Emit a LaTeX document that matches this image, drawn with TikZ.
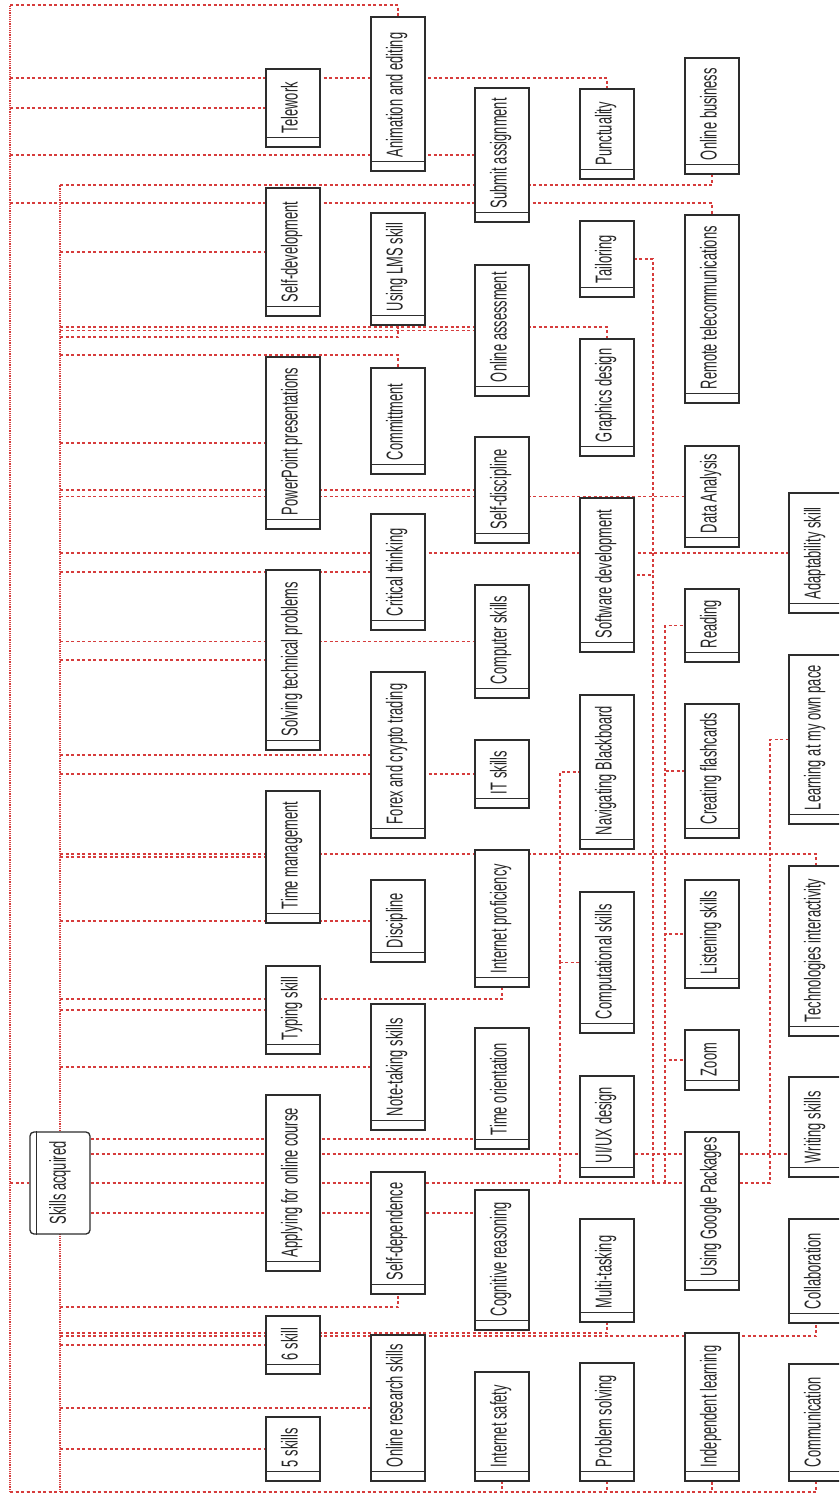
\documentclass[tikz,border=0pt]{standalone}
\usepackage{fontspec}
\usepackage{tikz}
\usetikzlibrary{calc, backgrounds}
\usepackage{xcolor}
\newfontfamily\cond[FakeStretch=0.56]{Liberation Sans}
\definecolor{linkred}{RGB}{214,60,60}
\definecolor{boxline}{RGB}{45,45,45}

\begin{document}
\begin{tikzpicture}[
  x=1pt, y=-1pt,
  skill/.style={
    rectangle, draw=boxline, line width=1.3pt, fill=white,
    rotate=90, minimum width=#1, minimum height=54,
    text width=#1-28, inner xsep=14pt, inner ysep=0pt,
    text height=17pt, text depth=8pt,
    font=\cond\fontsize{23}{25}\selectfont, text=black!85,
    execute at begin node={\hbox\bgroup\spaceskip=3.8pt\relax},
    execute at end node=\egroup
  },
  rootbox/.style={
    rectangle, draw=boxline, line width=1.3pt, fill=white,
    rounded corners=4pt, rotate=90, minimum width=102, minimum height=60,
    inner sep=0pt, font=\cond\fontsize{23}{25}\selectfont, text=black!85
  },
  strip/.style={draw=boxline, line width=1.3pt},
  link/.style={draw=linkred, line width=1.1pt, dash pattern=on 3pt off 2.5pt},
  trunk/.style={draw=linkred, line width=1.3pt, dash pattern=on 1.2pt off 1pt}
]
\useasboundingbox (0,0) rectangle (839,1494);
\clip (0,0) rectangle (839,1494);

\node[rootbox] (root) at (60,1183) {Skills acquired};

\node[skill=64]  (fiveskills) at (293,1449) {5 skills};
\node[skill=58]  (sixskill)   at (293,1345) {6 skill};
\node[skill=176] (applying)   at (293,1183) {Applying for online course};
\node[skill=88]  (typing)     at (293,1010) {Typing skill};
\node[skill=132] (timemgmt)   at (293,857)  {Time management};
\node[skill=180] (solving)    at (293,660)  {Solving technical problems};
\node[skill=172] (powerpoint) at (293,443)  {PowerPoint presentations};
\node[skill=128] (selfdev)    at (293,252)  {Self-development};
\node[skill=78]  (telework)   at (293,108)  {Telework};

\node[skill=146] (onlres)     at (398,1408) {Online research skills};
\node[skill=122] (selfdep)    at (398,1233) {Self-dependence};
\node[skill=126] (notetaking) at (398,1067) {Note-taking skills};
\node[skill=82]  (discipline) at (398,921)  {Discipline};
\node[skill=166] (forex)      at (398,755)  {Forex and crypto trading};
\node[skill=116] (critical)   at (398,572)  {Critical thinking};
\node[skill=106] (commit)     at (398,421)  {Committment};
\node[skill=112] (lms)        at (398,269)  {Using LMS skill};
\node[skill=154] (anim)       at (398,94)   {Animation and editing};

\node[skill=109] (intsafety)  at (502,1426.5) {Internet safety};
\node[skill=140] (cognitive)  at (502,1260)   {Cognitive reasoning};
\node[skill=121] (timeor)     at (502,1088.5) {Time orientation};
\node[skill=137] (intprof)    at (502,918.5)  {Internet proficiency};
\node[skill=68]  (itskills)   at (502,774)    {IT skills};
\node[skill=113] (computer)   at (502,641.5)  {Computer skills};
\node[skill=106] (selfdisc)   at (502,490)    {Self-discipline};
\node[skill=131] (onlassess)  at (502,330.5)  {Online assessment};
\node[skill=134] (submit)     at (502,155)    {Submit assignment};

\node[skill=118] (probsolv)   at (607,1422)   {Problem solving};
\node[skill=103] (multitask)  at (607,1270.5) {Multi-tasking};
\node[skill=101] (uiux)       at (607,1126.5) {UI/UX design};
\node[skill=141] (comput)     at (607,962.5)  {Computational skills};
\node[skill=154] (navbb)      at (607,772)    {Navigating Blackboard};
\node[skill=154] (softdev)    at (607,575)    {Software development};
\node[skill=117] (graphics)   at (607,397.5)  {Graphics design};
\node[skill=76]  (tailor)     at (607,259)    {Tailoring};
\node[skill=90]  (punct)      at (607,134)    {Punctuality};

\node[skill=148] (indep)      at (712,1407)   {Independent learning};
\node[skill=158] (gpack)      at (712,1211)   {Using Google Packages};
\node[skill=60]  (zoom)       at (712,1060)   {Zoom};
\node[skill=108] (listening)  at (712,934)    {Listening skills};
\node[skill=134] (creating)   at (712,771)    {Creating flashcards};
\node[skill=73]  (reading)    at (712,625.5)  {Reading};
\node[skill=101] (dataan)     at (712,496.5)  {Data Analysis};
\node[skill=188] (remote)     at (712,309)    {Remote telecommunications};
\node[skill=116] (onlbiz)     at (712,116)    {Online business};

\node[skill=117] (comm)       at (816,1422.5) {Communication};
\node[skill=104] (collab)     at (816,1271)   {Collaboration};
\node[skill=100] (writing)    at (816,1127)   {Writing skills};
\node[skill=170] (techint)    at (816,951)    {Technologies interactivity};
\node[skill=169] (learnpace)  at (816,739.5)  {Learning at my own pace};
\node[skill=120] (adapt)      at (816,553)    {Adaptability skill};

\foreach \n in {fiveskills, sixskill, applying, typing, timemgmt, solving, powerpoint, selfdev, telework,
  onlres, selfdep, notetaking, discipline, forex, critical, commit, lms, anim,
  intsafety, cognitive, timeor, intprof, itskills, computer, selfdisc, onlassess, submit,
  probsolv, multitask, uiux, comput, navbb, softdev, graphics, tailor, punct,
  indep, gpack, zoom, listening, creating, reading, dataan, remote, onlbiz,
  comm, collab, writing, techint, learnpace, adapt}
  \draw[strip] ($(\n.south west)!10pt!(\n.south east)$) -- ($(\n.north west)!10pt!(\n.north east)$);
\draw[strip] ($(root.north east)!7pt!(root.south east)$) -- ($(root.north west)!7pt!(root.south west)$);

\coordinate (ta)  at (10,5);
\coordinate (tab) at (10,1492);
\coordinate (tb)  at (60,185);
\coordinate (tbb) at (60,1492);
\coordinate (va)  at (560,1183);
\coordinate (vb)  at (653,1183);
\coordinate (vc)  at (665,1183);
\coordinate (vd)  at (770,1183);

\begin{scope}[on background layer]
\draw[trunk] (tab) -- (ta);
\draw[trunk] (tbb) -- (tb);
\draw[link] (ta) -| (anim.east);
\draw[link] (tb) -| (onlbiz.west);
\draw[link] (ta |- root.north) -- (root.north);
\draw[link] (tab) -| (intsafety.west);
\draw[link] (tab) -| (probsolv.west);
\draw[link] (tab) -| (indep.west);
\draw[link] (tab) -| (comm.west);

\draw[link] (ta |- 0,78) -| (punct.east);
\draw[link] (ta |- telework.north) -- (telework.north);
\draw[link] (ta |- submit.north) -- (submit.north);
\draw[link] (ta |- 0,203) -| (remote.east);

\draw[link] (tb |- selfdev.north) -- (selfdev.north);
\draw[link] (tb |- 0,327) -| (graphics.east);
\draw[link] (tb |- onlassess.north) -- (onlassess.north);
\draw[link] (tb |- 0,337) -| (lms.west);
\draw[link] (tb |- 0,355) -| (commit.east);
\draw[link] (tb |- powerpoint.north) -- (powerpoint.north);
\draw[link] (tb |- selfdisc.north) -- (selfdisc.north);
\draw[link] (tb |- dataan.north) -- (dataan.north);
\draw[link] (tb |- adapt.north) -- (adapt.north);
\draw[link] (tb |- critical.north) -- (critical.north);
\draw[link] (tb |- computer.north) -- (computer.north);
\draw[link] (tb |- solving.north) -- (solving.north);
\draw[link] (tb |- forex.north) -- (forex.north);
\draw[link] (tb |- itskills.north) -- (itskills.north);
\draw[link] (tb |- timemgmt.north) -- (timemgmt.north);
\draw[link] (tb |- 0,854) -| (techint.east);
\draw[link] (tb |- discipline.north) -- (discipline.north);
\draw[link] (tb |- 0,999) -| (intprof.west);
\draw[link] (tb |- typing.north) -- (typing.north);
\draw[link] (tb |- notetaking.north) -- (notetaking.north);
\draw[link] (tb |- 0,1307) -| (selfdep.west);
\draw[link] (tb |- 0,1333) -| (multitask.west);
\draw[link] (tb |- 0,1336) -| (collab.west);
\draw[link] (tb |- sixskill.north) -- (sixskill.north);
\draw[link] (tb |- onlres.north) -- (onlres.north);
\draw[link] (tb |- fiveskills.north) -- (fiveskills.north);

\draw[link] (root.south |- 0,1139) -- (timeor.north |- 0,1139);
\draw[link] (root.south |- 0,1154) -- (writing.north |- 0,1154);
\draw[link] (root.south |- 0,1213) -- (cognitive.north |- 0,1213);
\draw[link] (root.south) -- (applying.north |- root.south);
\draw[link] (root.south) -- (vd) |- (learnpace.north);
\draw[link] (va) |- (navbb.north);
\draw[link] (va) |- (comput.north);
\draw[link] (vb) |- (tailor.south);
\draw[link] (vb) |- (softdev.south);
\draw[link] (vc) |- (reading.north);
\draw[link] (vc) |- (creating.north);
\draw[link] (vc) |- (listening.north);
\draw[link] (vc) |- (zoom.north);
\end{scope}
\end{tikzpicture}
\end{document}
